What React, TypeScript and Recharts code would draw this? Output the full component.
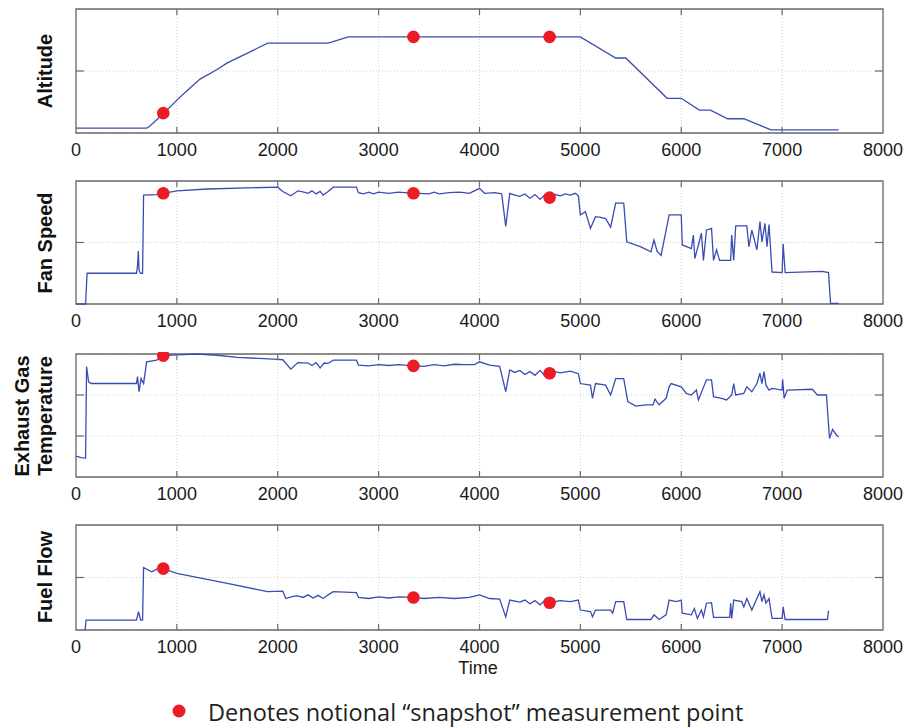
import {
  ComposedChart,
  Line,
  XAxis,
  YAxis,
  CartesianGrid,
  ReferenceDot,
  ReferenceArea,
  ReferenceLine,
} from "recharts";

type Pt = [number, number];

const timeTicks = [0, 1000, 2000, 3000, 4000, 5000, 6000, 7000, 8000];
const snapshotTimes = [865, 3345, 4695];

// values are in panel units (no real engineering units are shown on the chart)
const altitude: Pt[] = [
  [0, 0.08], [700, 0.08], [725, 0.1], [870, 0.32], [1000, 0.53], [1100, 0.68],
  [1230, 0.87], [1395, 1.02], [1500, 1.13], [1690, 1.28], [1900, 1.45],
  [2500, 1.45], [2700, 1.55], [5000, 1.55], [5350, 1.21], [5450, 1.21],
  [5860, 0.56], [6000, 0.56], [6180, 0.37], [6290, 0.37], [6460, 0.23],
  [6620, 0.23], [6890, 0.05], [7560, 0.05],
];
const altitudeSnaps = [0.32, 1.55, 1.55];

const fanSpeed: Pt[] = [
  [0, 0], [95, 0], [110, 0.5], [600, 0.5], [610, 0.62], [618, 0.86], [625, 0.55],
  [640, 0.5], [660, 0.5], [670, 1.77], [800, 1.78], [865, 1.8], [1000, 1.84],
  [1300, 1.87], [2000, 1.9], [2050, 1.83], [2130, 1.76], [2200, 1.84], [2260, 1.82],
  [2300, 1.8], [2340, 1.84], [2380, 1.79], [2420, 1.83], [2450, 1.77], [2500, 1.83],
  [2550, 1.9], [2780, 1.9], [2800, 1.81], [2850, 1.79], [2900, 1.82], [2950, 1.79],
  [3000, 1.82], [3100, 1.8], [3200, 1.82], [3345, 1.8], [3400, 1.8], [3500, 1.79],
  [3550, 1.82], [3600, 1.79], [3700, 1.81], [3800, 1.82], [3900, 1.8], [4000, 1.88],
  [4050, 1.8], [4150, 1.81], [4220, 1.79], [4260, 1.26], [4300, 1.8], [4350, 1.77],
  [4400, 1.75], [4450, 1.79], [4500, 1.72], [4550, 1.78], [4600, 1.7], [4650, 1.78],
  [4695, 1.73], [4750, 1.78], [4800, 1.76], [4850, 1.79], [4900, 1.77], [4950, 1.8],
  [4980, 1.76], [5000, 1.45], [5050, 1.5], [5100, 1.23], [5150, 1.42], [5200, 1.41],
  [5250, 1.39], [5300, 1.25], [5350, 1.64], [5430, 1.64], [5460, 1.01], [5600, 0.93],
  [5700, 0.85], [5730, 1.04], [5760, 0.86], [5800, 0.79], [5850, 1.2], [5880, 1.45],
  [6000, 1.45], [6010, 0.96], [6100, 0.9], [6120, 1.12], [6135, 0.74], [6200, 1.15],
  [6220, 0.71], [6250, 1.2], [6300, 1.23], [6320, 0.71], [6350, 0.88], [6380, 0.71],
  [6490, 0.71], [6500, 1.12], [6520, 0.71], [6540, 1.27], [6650, 1.27], [6670, 0.93],
  [6700, 1.2], [6750, 0.88], [6780, 1.34], [6800, 1.01], [6830, 1.31], [6850, 0.93],
  [6870, 1.29], [6900, 0.52], [7000, 0.51], [7010, 0.98], [7030, 0.51], [7400, 0.53],
  [7460, 0.51], [7480, 0.01], [7560, 0.01],
];
const fanSpeedSnaps = [1.8, 1.8, 1.73];

const exhaustGasTemp: Pt[] = [
  [0, 0.51], [50, 0.47], [95, 0.46], [105, 2.69], [125, 2.32], [150, 2.28], [600, 2.28],
  [610, 2.45], [625, 2.08], [645, 2.4], [670, 2.28], [700, 2.81], [800, 2.85],
  [865, 2.96], [1000, 2.98], [1200, 3.0], [1400, 2.97], [1600, 2.92], [2000, 2.87],
  [2050, 2.86], [2130, 2.63], [2200, 2.79], [2300, 2.78], [2340, 2.72], [2380, 2.79],
  [2420, 2.66], [2460, 2.78], [2500, 2.77], [2550, 2.85], [2780, 2.85], [2800, 2.73],
  [2900, 2.71], [3000, 2.74], [3100, 2.72], [3200, 2.74], [3345, 2.71], [3450, 2.7],
  [3550, 2.74], [3650, 2.71], [3750, 2.75], [3850, 2.74], [3950, 2.74], [4000, 2.81],
  [4100, 2.73], [4200, 2.7], [4260, 2.08], [4300, 2.61], [4350, 2.55], [4400, 2.6],
  [4450, 2.5], [4500, 2.57], [4550, 2.48], [4600, 2.6], [4650, 2.46], [4695, 2.53],
  [4750, 2.57], [4800, 2.54], [4900, 2.58], [4980, 2.52], [5000, 2.28], [5100, 2.24],
  [5120, 1.92], [5150, 2.28], [5250, 2.24], [5300, 2.0], [5350, 2.4], [5430, 2.4],
  [5470, 1.84], [5550, 1.73], [5650, 1.76], [5720, 1.76], [5740, 1.9], [5780, 1.76],
  [5850, 1.92], [5880, 2.2], [5900, 2.28], [6000, 2.2], [6050, 2.04], [6100, 2.0],
  [6150, 2.12], [6170, 1.88], [6250, 2.37], [6300, 2.37], [6320, 1.96], [6400, 1.92],
  [6450, 1.88], [6500, 2.0], [6520, 2.28], [6540, 2.0], [6620, 2.04], [6650, 2.2],
  [6700, 2.08], [6750, 2.28], [6780, 2.53], [6800, 2.28], [6820, 2.57], [6840, 2.24],
  [6870, 2.12], [6900, 2.16], [7000, 2.12], [7005, 2.38], [7020, 1.92], [7050, 2.12],
  [7300, 2.14], [7350, 2.0], [7440, 2.0], [7450, 1.63], [7470, 0.94], [7500, 1.16],
  [7540, 1.02], [7560, 0.98],
];
const exhaustGasSnaps = [2.96, 2.71, 2.53];

const fuelFlow: Pt[] = [
  [90, 0], [100, 0.19], [600, 0.19], [620, 0.35], [640, 0.19], [660, 0.19],
  [670, 1.19], [750, 1.11], [800, 1.16], [865, 1.17], [950, 1.11], [1000, 1.08],
  [1500, 0.89], [1900, 0.73], [2050, 0.74], [2080, 0.6], [2150, 0.64], [2200, 0.65],
  [2250, 0.62], [2300, 0.67], [2350, 0.61], [2400, 0.66], [2450, 0.6], [2500, 0.67],
  [2550, 0.73], [2780, 0.71], [2800, 0.62], [2900, 0.6], [3000, 0.63], [3100, 0.61],
  [3200, 0.63], [3345, 0.62], [3450, 0.6], [3600, 0.62], [3750, 0.6], [3900, 0.62],
  [4000, 0.67], [4100, 0.6], [4200, 0.59], [4260, 0.25], [4300, 0.57], [4400, 0.53],
  [4450, 0.57], [4500, 0.5], [4550, 0.56], [4600, 0.48], [4650, 0.57], [4695, 0.52],
  [4800, 0.56], [4900, 0.54], [4980, 0.57], [5000, 0.38], [5100, 0.35], [5120, 0.25],
  [5150, 0.38], [5300, 0.38], [5320, 0.32], [5350, 0.54], [5430, 0.54], [5460, 0.2],
  [5700, 0.2], [5730, 0.29], [5780, 0.2], [5850, 0.29], [5880, 0.57], [5950, 0.54],
  [6000, 0.57], [6010, 0.32], [6100, 0.29], [6130, 0.41], [6160, 0.22], [6200, 0.38],
  [6220, 0.25], [6250, 0.51], [6300, 0.52], [6320, 0.24], [6480, 0.24], [6490, 0.51],
  [6500, 0.22], [6520, 0.57], [6600, 0.54], [6620, 0.44], [6650, 0.6], [6700, 0.38],
  [6750, 0.6], [6780, 0.73], [6800, 0.54], [6820, 0.67], [6840, 0.51], [6870, 0.6],
  [6900, 0.22], [7000, 0.22], [7010, 0.44], [7030, 0.2], [7450, 0.2], [7460, 0.37],
];
const fuelFlowSnaps = [1.17, 0.62, 0.52];

const LINE = "#3a4cb4";
const RED = "#ec1c24";
const FRAME = "#6a6a6a";
const FONT = "'Liberation Sans', Arial, sans-serif";

const panels = [
  { id: "alt", series: altitude, snaps: altitudeSnaps, yTicks: [0, 1, 2], top: 9, bottom: 133 },
  { id: "fan", series: fanSpeed, snaps: fanSpeedSnaps, yTicks: [0, 1, 2], top: 181, bottom: 304 },
  { id: "egt", series: exhaustGasTemp, snaps: exhaustGasSnaps, yTicks: [0, 1, 2, 3], top: 354, bottom: 477 },
  { id: "ff", series: fuelFlow, snaps: fuelFlowSnaps, yTicks: [0, 1, 2], top: 525, bottom: 630 },
];

const PLOT_LEFT = 76;
const PLOT_RIGHT = 883;
const W = 908;

const Panel = ({ p }: { p: (typeof panels)[number] }) => {
  const data = p.series.map(([t, v]) => ({ t, v }));
  const yMax = p.yTicks[p.yTicks.length - 1];
  const plotH = p.bottom - p.top;
  const xTickLen = (6 / plotH) * yMax;
  const yTickLen = (8 / (PLOT_RIGHT - PLOT_LEFT)) * 8000;
  const innerX = timeTicks.slice(1, -1);
  const innerY = p.yTicks.slice(1, -1);

  return (
    <div style={{ position: "absolute", left: 0, top: p.top - 2 }}>
      <ComposedChart
        width={W}
        height={plotH + 2 + 30}
        data={data}
        margin={{ top: 2, right: W - PLOT_RIGHT, bottom: 0, left: PLOT_LEFT }}
      >
        <CartesianGrid stroke="#cfcfcf" strokeDasharray="1 2" />
        <XAxis
          dataKey="t"
          type="number"
          domain={[0, 8000]}
          ticks={timeTicks}
          interval={0}
          height={30}
          axisLine={false}
          tickLine={false}
          tickSize={0}
          tickMargin={10}
          tick={{ fontSize: 18, fill: "#1a1a1a", fontFamily: FONT }}
        />
        <YAxis type="number" domain={[0, yMax]} ticks={p.yTicks} hide />
        <Line
          dataKey="v"
          type="linear"
          stroke={LINE}
          strokeWidth={1.3}
          dot={false}
          isAnimationActive={false}
        />
        {innerX.map((t) => (
          <ReferenceLine
            key={`xb-${t}`}
            segment={[{ x: t, y: 0 }, { x: t, y: xTickLen }]}
            stroke={FRAME}
            strokeWidth={1.2}
          />
        ))}
        {innerX.map((t) => (
          <ReferenceLine
            key={`xt-${t}`}
            segment={[{ x: t, y: yMax }, { x: t, y: yMax - xTickLen }]}
            stroke={FRAME}
            strokeWidth={1.2}
          />
        ))}
        {innerY.map((v) => (
          <ReferenceLine
            key={`yl-${v}`}
            segment={[{ x: 0, y: v }, { x: yTickLen, y: v }]}
            stroke={FRAME}
            strokeWidth={1.2}
          />
        ))}
        {innerY.map((v) => (
          <ReferenceLine
            key={`yr-${v}`}
            segment={[{ x: 8000, y: v }, { x: 8000 - yTickLen, y: v }]}
            stroke={FRAME}
            strokeWidth={1.2}
          />
        ))}
        <ReferenceArea
          x1={0}
          x2={8000}
          y1={0}
          y2={yMax}
          fill="none"
          fillOpacity={0}
          stroke={FRAME}
          strokeWidth={1.3}
        />
        {snapshotTimes.map((t, i) => (
          <ReferenceDot
            key={`s-${t}`}
            x={t}
            y={p.snaps[i]}
            r={6.3}
            fill={RED}
            stroke="none"
          />
        ))}
      </ComposedChart>
    </div>
  );
};

const titleStyle = {
  fontFamily: FONT,
  fontWeight: 700,
  fontSize: 20,
  fill: "#111",
};

export default function App() {
  return (
    <div
      style={{
        position: "absolute",
        left: 0,
        top: 0,
        width: W,
        height: 728,
        background: "#fff",
      }}
    >
      {panels.map((p) => (
        <Panel key={p.id} p={p} />
      ))}
      <svg
        width={W}
        height={728}
        style={{ position: "absolute", left: 0, top: 0, pointerEvents: "none" }}
      >
        <text transform="translate(45,71) rotate(-90)" textAnchor="middle" dominantBaseline="central" style={titleStyle}>
          Altitude
        </text>
        <text transform="translate(45,243) rotate(-90)" textAnchor="middle" dominantBaseline="central" style={titleStyle}>
          Fan Speed
        </text>
        <text transform="translate(22,416) rotate(-90)" textAnchor="middle" dominantBaseline="central" style={titleStyle}>
          Exhaust Gas
        </text>
        <text transform="translate(45,416) rotate(-90)" textAnchor="middle" dominantBaseline="central" style={titleStyle}>
          Temperature
        </text>
        <text transform="translate(45,577) rotate(-90)" textAnchor="middle" dominantBaseline="central" style={titleStyle}>
          Fuel Flow
        </text>
        <text x={478} y={674} textAnchor="middle" style={{ fontFamily: FONT, fontSize: 18, fill: "#1a1a1a" }}>
          Time
        </text>
        <circle cx={179} cy={711} r={6.5} fill={RED} />
        <text x={208} y={721} style={{ fontFamily: "'Open Sans', sans-serif", fontSize: 23.5, fill: "#231f20" }}>
          Denotes notional “snapshot” measurement point
        </text>
      </svg>
    </div>
  );
}
